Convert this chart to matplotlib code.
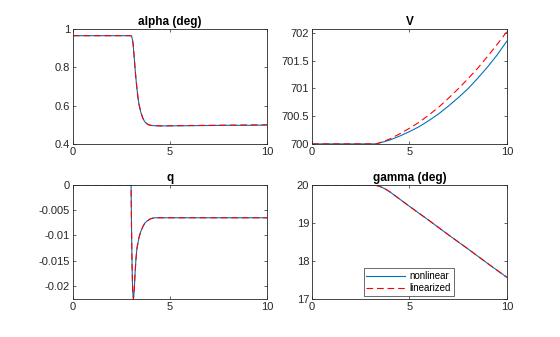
import numpy as np
import matplotlib
matplotlib.use('Agg')
import matplotlib.pyplot as plt

# values
t_alpha = [0, 3.0, 3.05, 3.1, 3.15, 3.2, 3.25, 3.3, 3.35, 3.4, 3.5, 3.6, 3.7, 3.8, 3.9, 4.0, 4.2, 4.5, 5, 6, 7, 8, 9, 10]
alpha_nl = [0.965, 0.965, 0.955, 0.925, 0.865, 0.80, 0.74, 0.69, 0.645, 0.61, 0.565, 0.535, 0.516, 0.506, 0.500, 0.497, 0.495, 0.494, 0.494, 0.495, 0.496, 0.497, 0.497, 0.498]
alpha_lin = [0.965, 0.965, 0.955, 0.925, 0.865, 0.80, 0.74, 0.69, 0.645, 0.61, 0.565, 0.535, 0.516, 0.506, 0.500, 0.497, 0.495, 0.494, 0.495, 0.496, 0.497, 0.498, 0.499, 0.500]

t_v = [0, 3.3, 3.6, 4, 4.5, 5, 5.5, 6, 6.5, 7, 7.5, 8, 8.5, 9, 9.5, 10]
v_nl = [700, 700, 700.03, 700.07, 700.14, 700.22, 700.31, 700.42, 700.54, 700.68, 700.83, 700.99, 701.18, 701.38, 701.60, 701.85]
v_lin = [700, 700, 700.035, 700.09, 700.18, 700.28, 700.39, 700.52, 700.66, 700.82, 700.99, 701.17, 701.36, 701.57, 701.79, 702.02]

t_q = [0, 3.0, 3.02, 3.05, 3.08, 3.12, 3.16, 3.2, 3.25, 3.3, 3.4, 3.5, 3.6, 3.7, 3.8, 4.0, 4.2, 4.5, 10]
q_nl = [0, 0, -0.008, -0.016, -0.021, -0.0226, -0.021, -0.0178, -0.0147, -0.0126, -0.0105, -0.0092, -0.0083, -0.0076, -0.0072, -0.0067, -0.0065, -0.0065, -0.0065]
q_lin = [0, 0, -0.008, -0.016, -0.021, -0.0226, -0.021, -0.0178, -0.0147, -0.0126, -0.0105, -0.0092, -0.0083, -0.0076, -0.0072, -0.0067, -0.0065, -0.0065, -0.0065]

t_g = [0, 3.0, 3.3, 3.5, 3.75, 4, 4.5, 5, 6, 7, 8, 9, 10]
gamma_nl = [20, 20, 19.99, 19.96, 19.9, 19.82, 19.63, 19.44, 19.07, 18.69, 18.32, 17.94, 17.57]
gamma_lin = [20, 20, 19.99, 19.96, 19.9, 19.82, 19.63, 19.44, 19.07, 18.69, 18.32, 17.94, 17.57]

x_ticks = [0, 5, 10]
alpha_ticks = [0.4, 0.6, 0.8, 1]
alpha_labels = ['0.4', '0.6', '0.8', '1']
v_ticks = [700, 700.5, 701, 701.5, 702]
v_labels = ['700', '700.5', '701', '701.5', '702']
q_ticks = [-0.02, -0.015, -0.01, -0.005, 0]
q_labels = ['-0.02', '-0.015', '-0.01', '-0.005', '0']
g_ticks = [17, 18, 19, 20]
g_labels = ['17', '18', '19', '20']

plt.rcParams['font.family'] = ['Liberation Sans', 'DejaVu Sans']
plt.rcParams['axes.unicode_minus'] = False

blue = '#0072BD'
red = '#FF0000'
axcol = '#262626'

fig = plt.figure(figsize=(5.6, 3.37), dpi=100)

panels = [
    ([0.130, 0.573, 0.347, 0.341], 'alpha (deg)', t_alpha, alpha_nl, alpha_lin, (0.4, 1.0), alpha_ticks, alpha_labels),
    ([0.557, 0.573, 0.348, 0.341], 'V', t_v, v_nl, v_lin, (700, 702.07), v_ticks, v_labels),
    ([0.130, 0.113, 0.347, 0.338], 'q', t_q, q_nl, q_lin, (-0.0226, 0), q_ticks, q_labels),
    ([0.557, 0.113, 0.348, 0.338], 'gamma (deg)', t_g, gamma_nl, gamma_lin, (17, 20), g_ticks, g_labels),
]

for i, (pos, title, t, y1, y2, ylim, yt, yl) in enumerate(panels):
    ax = fig.add_axes(pos)
    ax.plot(t, y1, '-', color=blue, lw=0.8, label='nonlinear')
    ax.plot(t, y2, '--', color=red, lw=0.8, dashes=(6, 3.5), label='linearized')
    ax.set_xlim(0, 10)
    ax.set_ylim(*ylim)
    ax.set_xticks(x_ticks)
    ax.set_xticklabels([str(x) for x in x_ticks])
    ax.set_yticks(yt)
    ax.set_yticklabels(yl)
    ax.tick_params(direction='in', top=True, right=True, length=2.5, width=0.5,
                   labelsize=8, colors=axcol, pad=2)
    for s in ax.spines.values():
        s.set_linewidth(0.6)
        s.set_color(axcol)
    ax.set_title(title, fontsize=8.5, fontweight='bold', pad=3, color='black')
    if i == 3:
        # legend sits low, a bit left of centre
        leg = ax.legend(loc='lower left', bbox_to_anchor=(0.25, 0.0), fontsize=7,
                        frameon=True, fancybox=False, edgecolor=axcol,
                        handlelength=4.0, borderpad=0.3, labelspacing=0.2,
                        handletextpad=0.45, borderaxespad=0.3)
        leg.get_frame().set_linewidth(0.6)

fig.savefig('out.png', dpi=100)
